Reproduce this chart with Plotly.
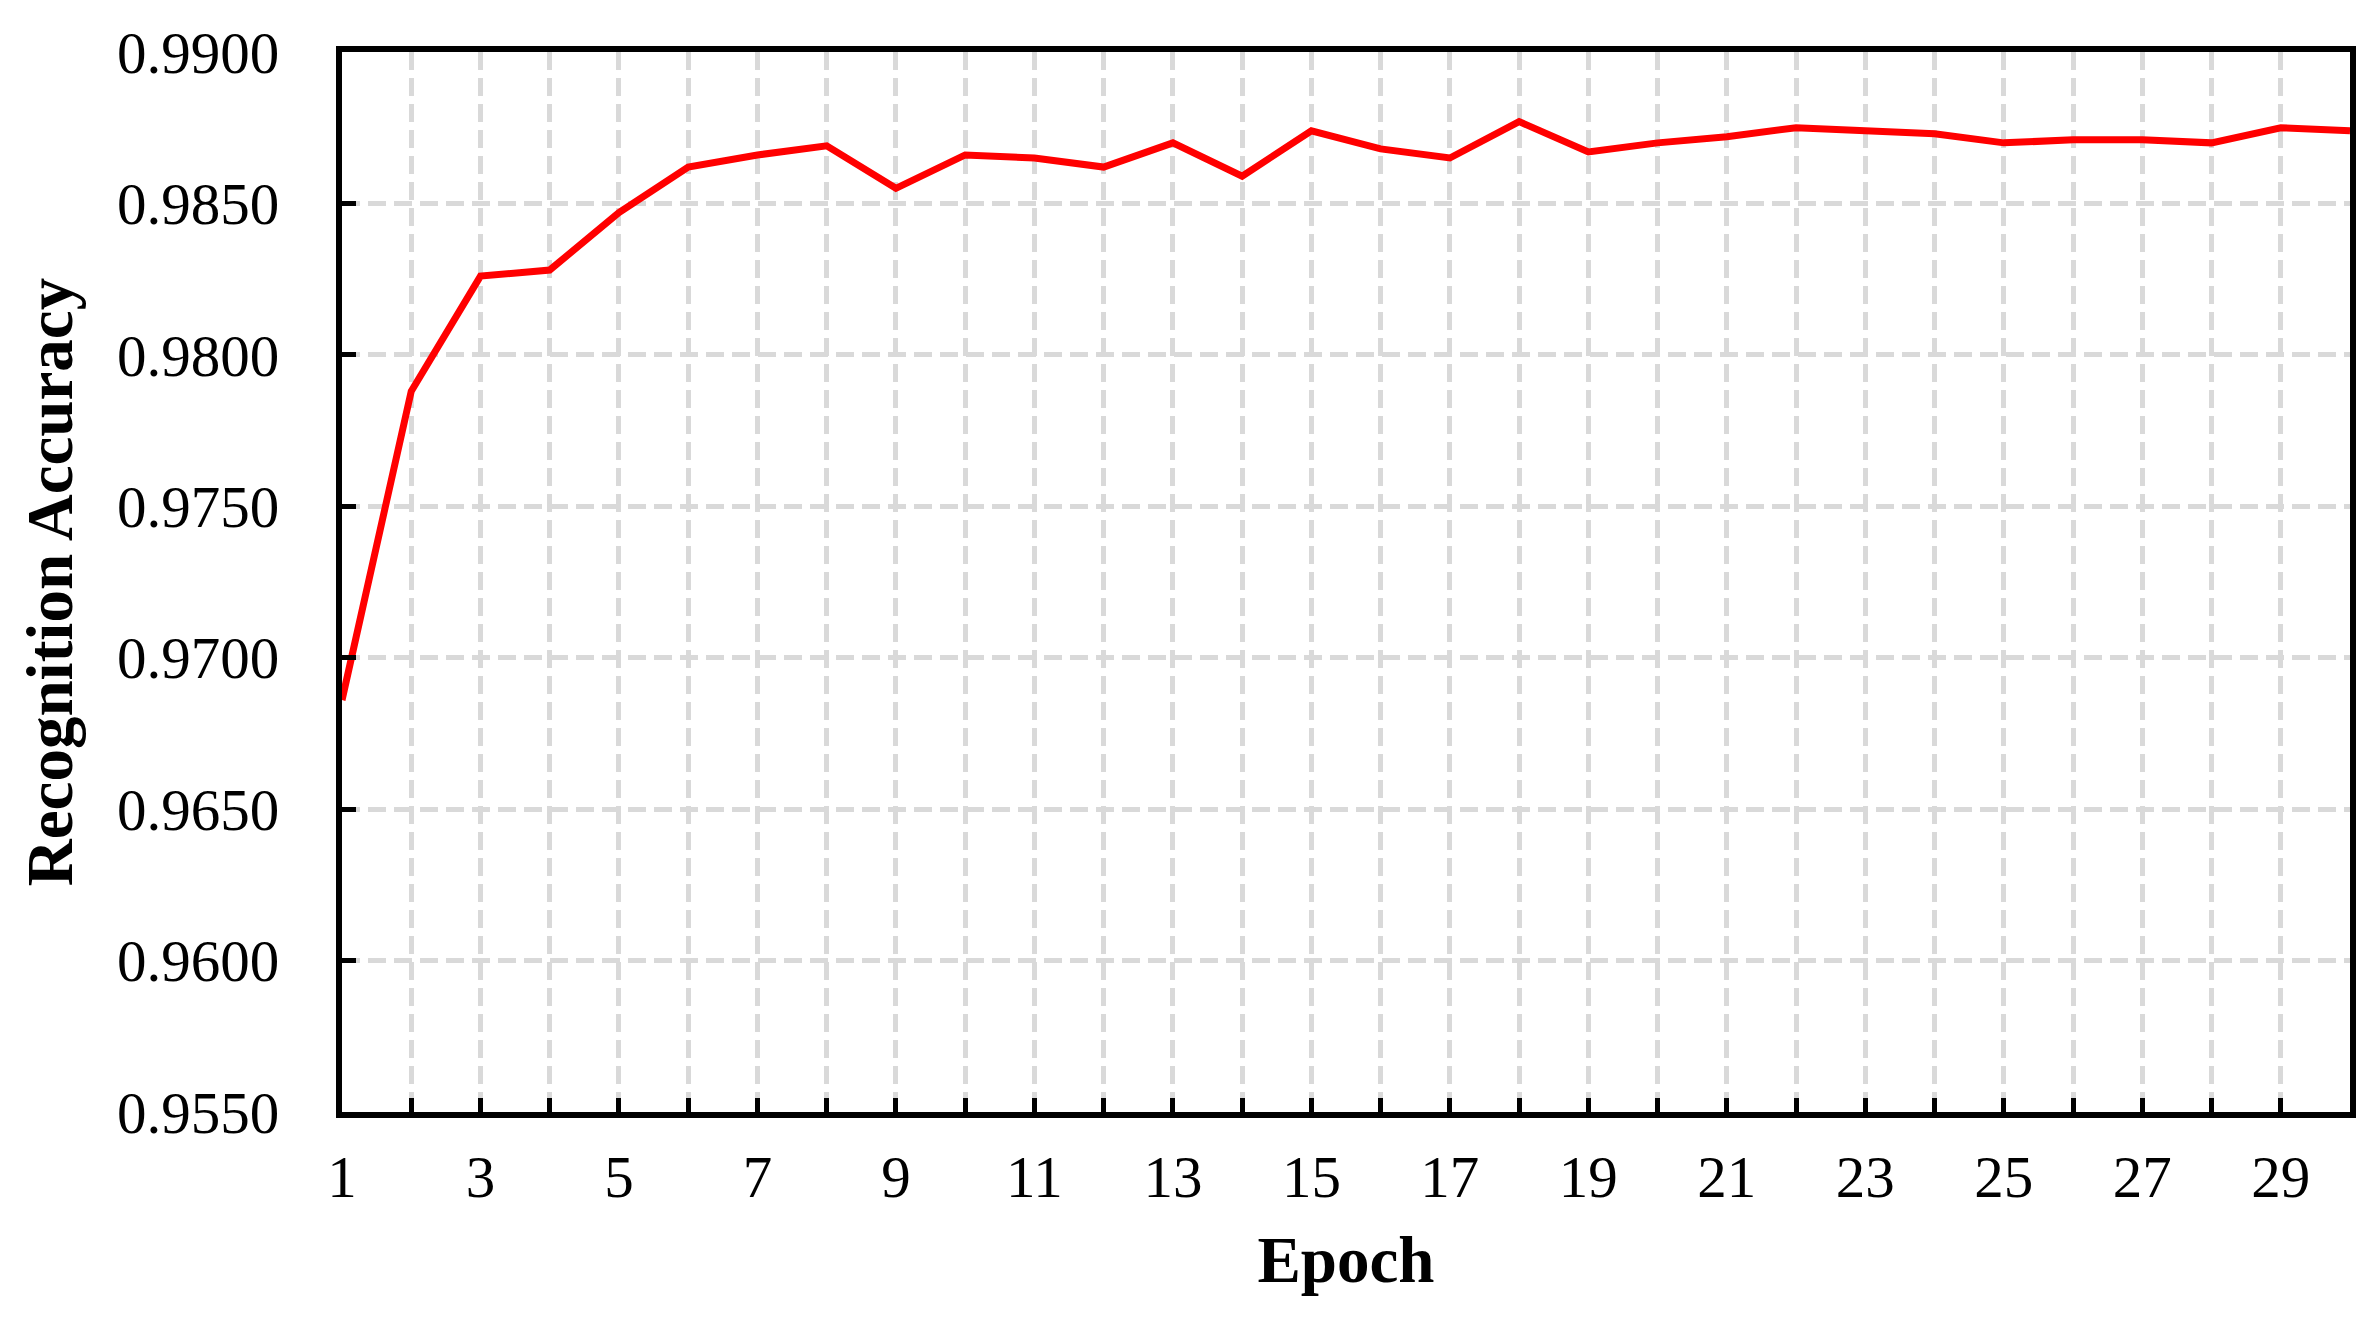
import plotly.graph_objects as go

# epochs and recognition accuracy
epochs = list(range(1, 31))
accuracy = [0.9686, 0.9788, 0.9826, 0.9828, 0.9847, 0.9862, 0.9866, 0.9869, 0.9855, 0.9866,
            0.9865, 0.9862, 0.9870, 0.9859, 0.9874, 0.9868, 0.9865, 0.9877, 0.9867, 0.9870,
            0.9872, 0.9875, 0.9874, 0.9873, 0.9870, 0.9871, 0.9871, 0.9870, 0.9875, 0.9874]

x_ticks = epochs
x_labels = [str(e) if e % 2 == 1 and e < 30 else "" for e in epochs]
y_ticks = [0.955, 0.960, 0.965, 0.970, 0.975, 0.980, 0.985, 0.990]

font = "Liberation Serif, Times New Roman, serif"

fig = go.Figure(go.Scatter(
    x=epochs, y=accuracy, mode="lines",
    line=dict(color="#ff0000", width=7),
))

fig.update_layout(
    width=2374, height=1321,
    margin=dict(l=334, r=32, t=44, b=217),
    plot_bgcolor="white", paper_bgcolor="white",
    showlegend=False,
    font=dict(family=font, size=59, color="black"),
)

fig.update_xaxes(
    range=[1, 30], tickvals=x_ticks, ticktext=x_labels,
    ticks="inside", ticklen=14, tickwidth=5, tickcolor="black",
    showline=True, linecolor="black", linewidth=6, mirror=True,
    showgrid=True, gridcolor="#d9d9d9", gridwidth=5, griddash="18px,8px",
    zeroline=False, ticklabelstandoff=8,
    tickfont=dict(size=59),
    title=dict(text="<b>Epoch</b>", font=dict(size=65), standoff=30),
)

fig.update_yaxes(
    range=[0.955, 0.990], tickvals=y_ticks, tickformat=".4f",
    ticks="inside", ticklen=14, tickwidth=5, tickcolor="black",
    showline=True, linecolor="black", linewidth=6, mirror=True,
    showgrid=True, gridcolor="#d9d9d9", gridwidth=5, griddash="18px,8px",
    zeroline=False, ticklabelstandoff=45,
    tickfont=dict(size=59),
    title=dict(text="<b>Recognition Accuracy</b>", font=dict(size=65), standoff=25),
)

fig.write_html("out.html")
